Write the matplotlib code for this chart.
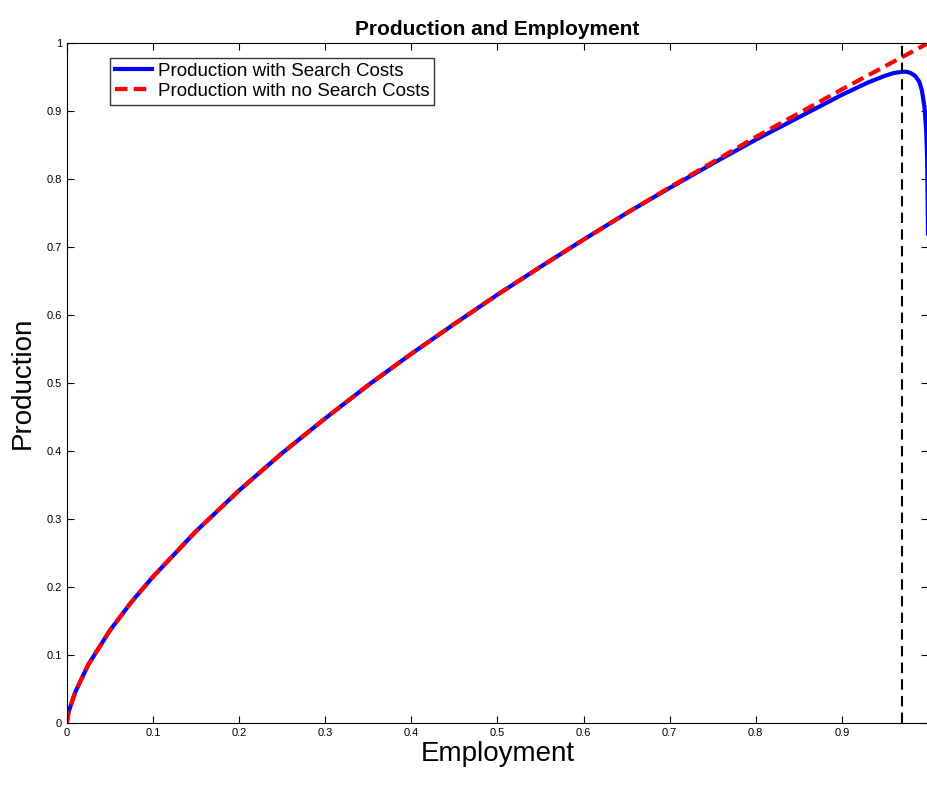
import matplotlib
matplotlib.use("Agg")
import matplotlib.pyplot as plt

# values
emp_nosearch = [0, 0.002, 0.01, 0.025, 0.05, 0.075, 0.1, 0.15, 0.2, 0.25, 0.3, 0.35, 0.4,
                0.45, 0.5, 0.55, 0.6, 0.65, 0.7, 0.75, 0.8, 0.85, 0.9, 0.95, 1.0]
prod_nosearch = [0, 0.016, 0.046, 0.086, 0.136, 0.178, 0.215, 0.282, 0.342, 0.397, 0.448,
                 0.497, 0.543, 0.587, 0.630, 0.671, 0.711, 0.750, 0.788, 0.825, 0.862,
                 0.897, 0.932, 0.966, 1.0]

emp_search = [0, 0.002, 0.01, 0.025, 0.05, 0.075, 0.1, 0.15, 0.2, 0.25, 0.3, 0.35, 0.4,
              0.45, 0.5, 0.55, 0.6, 0.65, 0.7, 0.75, 0.8, 0.85, 0.9, 0.93, 0.95, 0.96,
              0.97, 0.975, 0.98, 0.985, 0.99, 0.993, 0.996, 0.998, 0.999, 1.0]
prod_search = [0, 0.016, 0.046, 0.086, 0.136, 0.178, 0.215, 0.282, 0.342, 0.397, 0.448,
               0.497, 0.543, 0.587, 0.630, 0.671, 0.711, 0.750, 0.787, 0.823, 0.858,
               0.891, 0.924, 0.942, 0.952, 0.956, 0.958, 0.958, 0.956, 0.952, 0.943,
               0.93, 0.905, 0.87, 0.83, 0.72]

opt_emp = 0.97

plt.rcParams['font.family'] = ['Liberation Sans', 'DejaVu Sans']
fig = plt.figure(figsize=(9.28, 7.85), dpi=100)
ax = fig.add_axes([0.072, 0.079, 0.928, 0.866])

ax.plot(emp_search, prod_search, color='#0000ff', lw=3, label='Production with Search Costs')
ax.plot(emp_nosearch, prod_nosearch, color='#ff0000', lw=3, ls=(0, (3, 1.5)),
        label='Production with no Search Costs')
ax.axvline(opt_emp, color='black', lw=1.5, ls=(0, (5, 3)))

ax.set_xlim(0, 1)
ax.set_ylim(0, 1)
ax.set_xticks([i / 10 for i in range(10)])
ax.set_xticklabels(['0'] + [f'{i/10:g}' for i in range(1, 10)])
ax.set_yticks([i / 10 for i in range(11)])
ax.set_yticklabels(['0'] + [f'{i/10:g}' for i in range(1, 10)] + ['1'])
ax.tick_params(direction='in', labelsize=8, top=True, right=True, length=5)
ax.set_xlabel('Employment', fontsize=20, labelpad=2)
ax.set_ylabel('Production', fontsize=20, labelpad=8)
ax.set_title('Production and Employment', fontsize=15, fontweight='bold', pad=6)
ax.legend(loc='upper left', bbox_to_anchor=(0.05, 0.978), fontsize=13.5, frameon=True,
          fancybox=False, edgecolor='black', handlelength=2, borderpad=0.25,
          labelspacing=0.15, handletextpad=0.3, borderaxespad=0)

fig.savefig('out.png', dpi=100)
